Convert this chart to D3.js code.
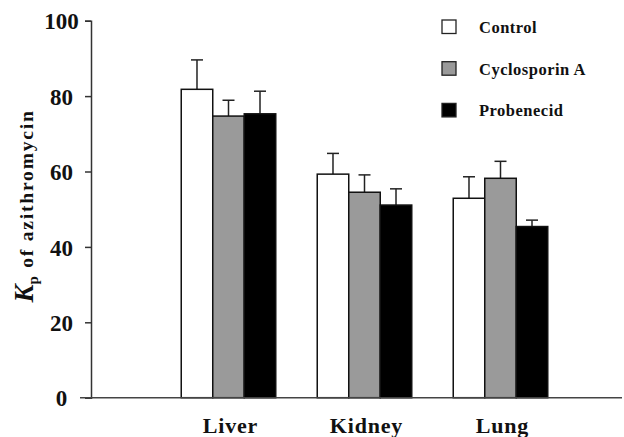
<!DOCTYPE html>
<html>
<head>
<meta charset="utf-8">
<script src="https://cdn.jsdelivr.net/npm/d3@7"></script>
<style>
  body { margin: 0; background: #fff; }
  svg text { font-family: "Liberation Serif", "Times New Roman", serif; font-weight: bold; fill: #111; }
</style>
</head>
<body>
<div id="chart"></div>
<script>
// Kp of azithromycin by tissue
const tissues = ["Liver", "Kidney", "Lung"];
const groups = ["Control", "Cyclosporin A", "Probenecid"];
const means = [
  [81.8, 74.7, 75.3],
  [59.3, 54.5, 51.1],
  [52.9, 58.2, 45.4]
];
const errors = [
  [7.8, 4.2, 6.0],
  [5.5, 4.6, 4.3],
  [5.7, 4.5, 1.7]
];
const yTicks = [0, 20, 40, 60, 80, 100];
const fills = ["#ffffff", "#9a9a9a", "#000000"];

(function() {
  const width = 624, height = 437;

  const svg = d3.select("#chart").append("svg")
    .attr("width", width)
    .attr("height", height);

  const y = d3.scaleLinear().domain([0, 100]).range([397.7, 20.7]);

  const x = d3.scaleBand()
    .domain(tissues)
    .range([160.5, 568.5])
    .paddingInner(0.305)
    .paddingOuter(0.1525);

  const xSub = d3.scaleBand()
    .domain(groups)
    .range([0, x.bandwidth()]);

  const rows = [];
  tissues.forEach((t, i) => {
    groups.forEach((g, j) => {
      rows.push({ tissue: t, group: g, value: means[i][j], err: errors[i][j], fill: fills[j] });
    });
  });

  // bars
  const bar = svg.append("g").selectAll("g")
    .data(rows)
    .enter().append("g")
    .attr("transform", d => `translate(${x(d.tissue) + xSub(d.group)},0)`);

  bar.append("line")
    .attr("x1", xSub.bandwidth() / 2)
    .attr("x2", xSub.bandwidth() / 2)
    .attr("y1", d => y(d.value))
    .attr("y2", d => y(d.value + d.err))
    .attr("stroke", "#222")
    .attr("stroke-width", 1.5);

  bar.append("line")
    .attr("x1", xSub.bandwidth() / 2 - 6)
    .attr("x2", xSub.bandwidth() / 2 + 6)
    .attr("y1", d => y(d.value + d.err))
    .attr("y2", d => y(d.value + d.err))
    .attr("stroke", "#222")
    .attr("stroke-width", 1.5);

  bar.append("rect")
    .attr("x", 0)
    .attr("width", xSub.bandwidth())
    .attr("y", d => y(d.value))
    .attr("height", d => y(0) - y(d.value))
    .attr("fill", d => d.fill)
    .attr("stroke", "#111")
    .attr("stroke-width", 1.5);

  // y axis
  const yAxis = svg.append("g")
    .attr("transform", "translate(91,0)")
    .call(d3.axisLeft(y).tickValues(yTicks).tickSize(6).tickFormat(d3.format("d")));
  yAxis.select(".domain").attr("stroke", "#333").attr("stroke-width", 1.5);
  yAxis.selectAll(".tick line").attr("stroke", "#333").attr("stroke-width", 1.5);
  yAxis.selectAll(".tick text")
    .attr("x", -29.5)
    .attr("text-anchor", "middle")
    .attr("font-size", 23)
    .attr("font-family", "Liberation Serif")
    .attr("dy", "0.36em")
    .attr("fill", "#111");

  // x axis line
  svg.append("line")
    .attr("x1", 80).attr("x2", 622)
    .attr("y1", y(0)).attr("y2", y(0))
    .attr("stroke", "#444")
    .attr("stroke-width", 1.5);

  // category labels
  svg.append("g").selectAll("text")
    .data(tissues)
    .enter().append("text")
    .attr("x", d => x(d) + x.bandwidth() / 2 + 2)
    .attr("y", 433)
    .attr("text-anchor", "middle")
    .attr("font-size", 22)
    .attr("letter-spacing", 0.8)
    .text(d => d);

  // y label
  const yl = svg.append("text")
    .attr("transform", "translate(33,206) rotate(-90)")
    .attr("text-anchor", "middle")
    .attr("font-size", 19.5)
    .attr("letter-spacing", 1.8);
  yl.append("tspan").attr("font-style", "italic").attr("font-size", 27).attr("letter-spacing", 0).text("K");
  yl.append("tspan").attr("font-size", 15).attr("dy", 5).text("p");
  yl.append("tspan").attr("dy", -5).text(" of azithromycin");

  // legend
  const legend = svg.append("g").selectAll("g")
    .data(groups)
    .enter().append("g")
    .attr("transform", (d, i) => `translate(442,${20 + i * 41.7})`);

  legend.append("rect")
    .attr("width", 14)
    .attr("height", 13.5)
    .attr("fill", (d, i) => fills[i])
    .attr("stroke", "#222")
    .attr("stroke-width", 1.3);

  legend.append("text")
    .attr("x", 37)
    .attr("y", 13)
    .attr("font-size", 16.5)
    .attr("letter-spacing", 0.5)
    .text(d => d);
})();
</script>
</body>
</html>
